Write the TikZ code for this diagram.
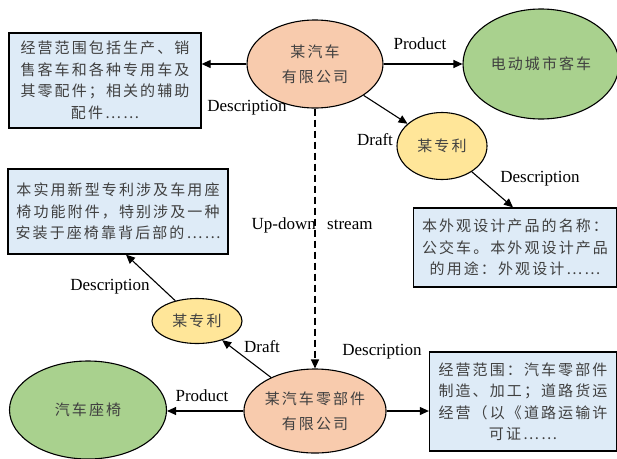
\documentclass[tikz,border=0pt]{standalone}
\usepackage{fontspec}
\setmainfont{Liberation Serif}
\newfontfamily\cjk[LetterSpace=14]{Noto Sans CJK SC}
\usetikzlibrary{shapes.geometric,arrows.meta}

\definecolor{orgfill}{HTML}{F8CBAD}
\definecolor{prodfill}{HTML}{A9D18E}
\definecolor{patfill}{HTML}{FFE699}
\definecolor{descfill}{HTML}{DEEBF7}
\definecolor{cjkgray}{HTML}{404040}

\tikzset{
  org/.style={ellipse, draw=black, line width=1.1pt, fill=orgfill, inner sep=0pt,
    minimum width=136pt, minimum height=88pt, align=center,
    font=\cjk\fontsize{15}{25}\selectfont, text=cjkgray},
  prod/.style={ellipse, draw=black, line width=1.1pt, fill=prodfill, inner sep=0pt,
    minimum width=155pt, minimum height=108pt,
    font=\cjk\fontsize{15}{25}\selectfont, text=cjkgray},
  pat/.style={ellipse, draw=black, line width=1.1pt, fill=patfill, inner sep=0pt,
    minimum width=90pt, font=\cjk\fontsize{15}{25}\selectfont, text=cjkgray},
  desc/.style={rectangle, draw=black, line width=1.3pt, fill=descfill, inner sep=0pt,
    align=center, font=\cjk\fontsize{15}{21.5}\selectfont, text=cjkgray},
  link/.style={draw=black, line width=1.1pt, -{Triangle[length=9pt,width=8pt]}},
  lbl/.style={font=\fontsize{17}{20}\selectfont, text=black, inner sep=0pt}
}

\begin{document}
\begin{tikzpicture}[x=1pt,y=-1pt]
\useasboundingbox (0,0) rectangle (617,458);

% companies
\node[org] (carco) at (315,64) {某汽车\\有限公司};
\node[org, minimum height=84pt] (partco) at (315,411) {某汽车零部件\\有限公司};

% products
\node[prod, minimum width=156pt, minimum height=110pt] (bus) at (541,64) {电动城市客车};
\node[prod, minimum width=157pt, minimum height=98pt] (seat) at (88,410) {汽车座椅};

% patents
\node[pat, minimum height=67pt] (pat1) at (442,146) {某专利};
\node[pat, minimum height=45pt] (pat2) at (197,321) {某专利};

% description boxes
\node[desc, minimum width=192pt, minimum height=95pt] (d1) at (105,80.5)
  {经营范围包括生产、销\\售客车和各种专用车及\\其零配件；相关的辅助\\配件……};
\node[desc, minimum width=220pt, minimum height=85pt] (d2) at (118,211.5)
  {本实用新型专利涉及车用座\\椅功能附件，特别涉及一种\\安装于座椅靠背后部的……};
\node[desc, minimum width=203pt, minimum height=79pt] (d3) at (515,247.5)
  {本外观设计产品的名称：\\公交车。本外观设计产品\\的用途：外观设计……};
\node[desc, minimum width=187pt, minimum height=99pt] (d4) at (523,401.5)
  {经营范围：汽车零部件\\制造、加工；道路货运\\经营（以《道路运输许\\可证……};

% connectors
\draw[link] (carco.west) -- (d1.east |- carco.west);
\draw[link] (carco.east) -- (bus.west);
\draw[link] (carco) -- (pat1);
\draw[link] (pat1) -- (d3.north west -| 513,0);
\draw[link, dashed, dash pattern=on 7pt off 4pt] (carco.south) -- (partco.north);
\draw[link] (partco.west) -- (seat.east |- partco.west);
\draw[link] (partco) -- (pat2);
\draw[link] (pat2) -- (d2.south -| 126,0);
\draw[link] (partco.east) -- (d4.west |- partco.east);

% labels
\node[lbl] (l1) at (247,108) {Description};
\node[lbl] (l2) at (420,44) {Product};
\node[lbl] (l3) at (375,140) {Draft};
\node[lbl] (l4) at (540,179) {Description};
\node[lbl, anchor=east] (l5a) at (316,225) {Up-down};
\node[lbl, anchor=west] (l5b) at (327,225) {stream};
\node[lbl] (l6) at (110,287) {Description};
\node[lbl] (l7) at (262,347) {Draft};
\node[lbl] (l8) at (202,396) {Product};
\node[lbl] (l9) at (382,352) {Description};
\end{tikzpicture}
\end{document}
